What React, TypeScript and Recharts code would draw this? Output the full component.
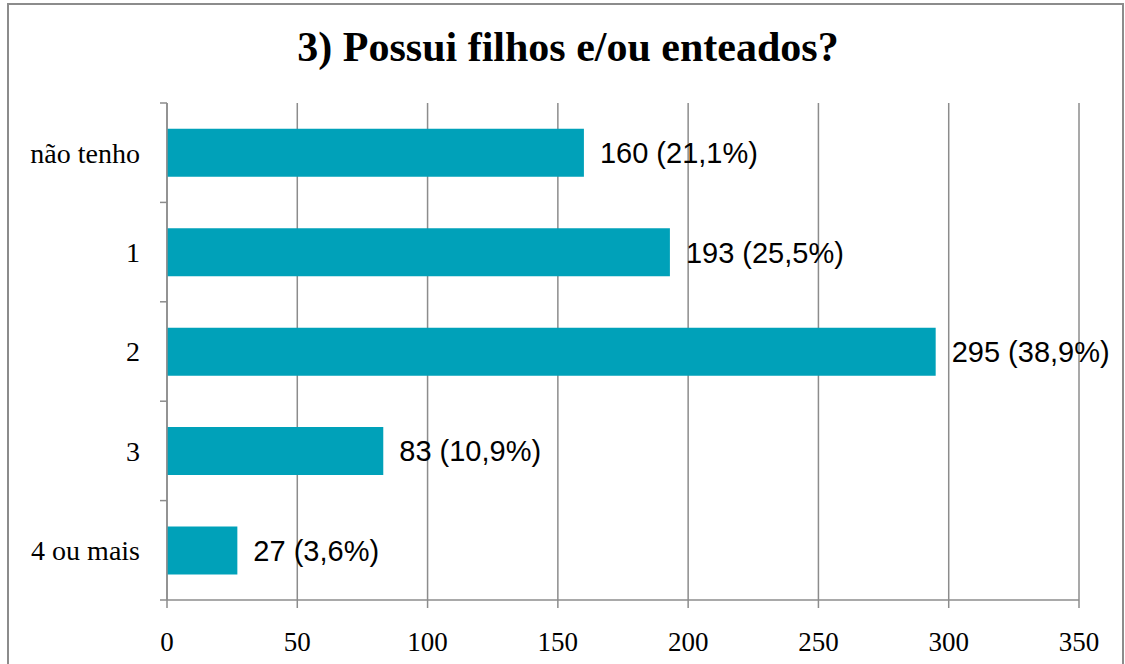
import { BarChart, Bar, XAxis, YAxis, CartesianGrid, LabelList } from 'recharts';

const categories = ['não tenho', '1', '2', '3', '4 ou mais'];
const counts = [160, 193, 295, 83, 27];
const percents = ['21,1%', '25,5%', '38,9%', '10,9%', '3,6%'];
const xTicks = [0, 50, 100, 150, 200, 250, 300, 350];

const data = categories.map((name, i) => ({
  name,
  value: counts[i],
  text: `${counts[i]} (${percents[i]})`,
}));

const W = 1125;
const H = 664;
const TOP = 103;
const AXIS_X = 167;
const X_AXIS_H = 64;
const PLOT_H = H - TOP - X_AXIS_H;
const BAND = PLOT_H / categories.length;
const GRAY = '#8c8c8c';
const SERIF = '"Liberation Serif", "DejaVu Serif", serif';

const CategoryTick = (props: any) => {
  const { x, y, payload, index } = props;
  const top = y - BAND / 2;
  return (
    <g>
      <line x1={AXIS_X - 7} x2={AXIS_X} y1={top} y2={top} stroke={GRAY} strokeWidth={1.5} />
      {index === categories.length - 1 && (
        <line x1={AXIS_X - 7} x2={AXIS_X} y1={top + BAND} y2={top + BAND} stroke={GRAY} strokeWidth={1.5} />
      )}
      <text x={x} y={y} dy="0.355em" textAnchor="end" fill="#000" fontFamily={SERIF} fontSize={28}>
        {payload.value}
      </text>
    </g>
  );
};

export default function App() {
  return (
    <div style={{ position: 'absolute', left: 0, top: 0, width: W, height: H, overflow: 'hidden', background: '#fff' }}>
      <div
        style={{
          position: 'absolute',
          left: 7,
          top: 3,
          width: 1113,
          height: 720,
          border: `2px solid ${GRAY}`,
        }}
      />
      <div
        style={{
          position: 'absolute',
          left: 0,
          top: 24,
          width: 1136,
          textAlign: 'center',
          fontFamily: SERIF,
          fontWeight: 'bold',
          fontSize: 42,
          lineHeight: '46px',
        }}
      >
        3) Possui filhos e/ou enteados?
      </div>
      <div style={{ position: 'absolute', left: 0, top: 0 }}>
        <BarChart
          width={W}
          height={H}
          data={data}
          layout="vertical"
          margin={{ top: TOP, right: 46, bottom: 0, left: 0 }}
          barCategoryGap="26%"
        >
          <CartesianGrid horizontal={false} stroke={GRAY} strokeWidth={1.5} />
          <XAxis
            type="number"
            domain={[0, 350]}
            ticks={xTicks}
            interval={0}
            height={X_AXIS_H}
            tickSize={8}
            tickMargin={24}
            axisLine={{ stroke: GRAY, strokeWidth: 1.5 }}
            tickLine={{ stroke: GRAY, strokeWidth: 1.5 }}
            tick={{ fill: '#000', fontFamily: SERIF, fontSize: 27 }}
          />
          <YAxis
            type="category"
            dataKey="name"
            width={AXIS_X}
            tickSize={7}
            tickMargin={20}
            tickLine={false}
            axisLine={{ stroke: GRAY, strokeWidth: 1.5 }}
            tick={<CategoryTick />}
            interval={0}
          />
          <Bar dataKey="value" fill="#00a1b9" isAnimationActive={false}>
            <LabelList
              dataKey="text"
              position="right"
              offset={16}
              fill="#000"
              fontFamily='"Liberation Sans", Arial, sans-serif'
              fontSize={29}
            />
          </Bar>
        </BarChart>
      </div>
    </div>
  );
}
